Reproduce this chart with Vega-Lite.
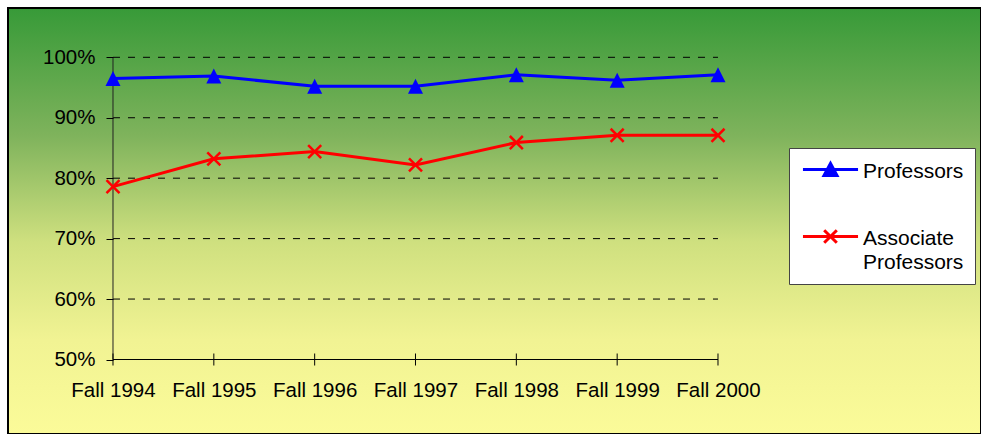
{
  "$schema": "https://vega.github.io/schema/vega-lite/v6.json",
  "width": 973,
  "height": 426,
  "autosize": {"type": "none"},
  "padding": {"left": 8, "top": 8, "right": 0, "bottom": 0},
  "background": "white",
  "view": {
    "stroke": "black",
    "strokeWidth": 2,
    "fill": {
      "gradient": "linear",
      "x1": 0, "y1": 0, "x2": 0, "y2": 1,
      "stops": [
        {"offset": 0, "color": "#379a38"},
        {"offset": 0.3, "color": "#7fb35c"},
        {"offset": 0.55, "color": "#cfe07f"},
        {"offset": 0.78, "color": "#f1f393"},
        {"offset": 1, "color": "#fbfb99"}
      ]
    }
  },
  "datasets": {
    "main": [
      {"year": 1994, "series": "Professors", "value": 0.965},
      {"year": 1995, "series": "Professors", "value": 0.969},
      {"year": 1996, "series": "Professors", "value": 0.952},
      {"year": 1997, "series": "Professors", "value": 0.952},
      {"year": 1998, "series": "Professors", "value": 0.971},
      {"year": 1999, "series": "Professors", "value": 0.962},
      {"year": 2000, "series": "Professors", "value": 0.971},
      {"year": 1994, "series": "Associate Professors", "value": 0.786},
      {"year": 1995, "series": "Associate Professors", "value": 0.832},
      {"year": 1996, "series": "Associate Professors", "value": 0.844},
      {"year": 1997, "series": "Associate Professors", "value": 0.822},
      {"year": 1998, "series": "Associate Professors", "value": 0.859},
      {"year": 1999, "series": "Associate Professors", "value": 0.871},
      {"year": 2000, "series": "Associate Professors", "value": 0.871}
    ],
    "grid": [{"g": 0.6}, {"g": 0.7}, {"g": 0.8}, {"g": 0.9}, {"g": 1.0}]
  },
  "layer": [
    {
      "data": {"name": "grid"},
      "mark": {"type": "rule", "color": "black", "strokeWidth": 1, "strokeDash": [7, 8]},
      "encoding": {
        "y": {"field": "g", "type": "quantitative", "scale": {"domain": [0.37674, 1.08157], "nice": false, "zero": false},
          "axis": {"orient": "left", "values": [0.5, 0.6, 0.7, 0.8, 0.9, 1.0], "format": ".0%", "domain": false, "ticks": true, "tickSize": 7, "tickColor": "black", "tickWidth": 1, "grid": false, "offset": -105, "labelPadding": 11, "labelFont": "Liberation Sans", "labelFontSize": 20.5, "labelColor": "black", "labelFlush": false, "labelOverlap": false, "title": null, "zindex": 1}},
        "x": {"datum": 1994, "type": "quantitative", "scale": {"domain": [1992.9587, 2002.6083], "nice": false, "zero": false},
          "axis": {"orient": "bottom", "values": [1994, 1995, 1996, 1997, 1998, 1999, 2000], "labelExpr": "'Fall ' + datum.value", "domain": false, "ticks": false, "tickSize": 0, "grid": false, "offset": -74.5, "labelPadding": 21, "labelBaseline": "top", "labelFont": "Liberation Sans", "labelFontSize": 20.5, "labelColor": "black", "labelFlush": false, "labelOverlap": false, "title": null, "zindex": 1}},
        "x2": {"datum": 2000}
      }
    },
    {
      "data": {"values": [{}]},
      "mark": {"type": "rule", "color": "#222222", "strokeWidth": 1},
      "encoding": {
        "x": {"datum": 1994, "type": "quantitative", "scale": {"domain": [1992.9587, 2002.6083], "nice": false, "zero": false},
          "axis": {"orient": "bottom", "values": [1994, 1995, 1996, 1997, 1998, 1999, 2000], "labelExpr": "'Fall ' + datum.value", "domain": false, "ticks": false, "tickSize": 0, "grid": false, "offset": -74.5, "labelPadding": 21, "labelBaseline": "top", "labelFont": "Liberation Sans", "labelFontSize": 20.5, "labelColor": "black", "labelFlush": false, "labelOverlap": false, "title": null, "zindex": 1}},
        "y": {"datum": 0.5, "type": "quantitative", "scale": {"domain": [0.37674, 1.08157], "nice": false, "zero": false},
          "axis": {"orient": "left", "values": [0.5, 0.6, 0.7, 0.8, 0.9, 1.0], "format": ".0%", "domain": false, "ticks": true, "tickSize": 7, "tickColor": "black", "tickWidth": 1, "grid": false, "offset": -105, "labelPadding": 11, "labelFont": "Liberation Sans", "labelFontSize": 20.5, "labelColor": "black", "labelFlush": false, "labelOverlap": false, "title": null, "zindex": 1}},
        "y2": {"datum": 1.0}
      }
    },
    {
      "data": {"values": [{}]},
      "mark": {"type": "rule", "color": "black", "strokeWidth": 1},
      "encoding": {
        "x": {"datum": 1994, "type": "quantitative", "scale": {"domain": [1992.9587, 2002.6083], "nice": false, "zero": false},
          "axis": {"orient": "bottom", "values": [1994, 1995, 1996, 1997, 1998, 1999, 2000], "labelExpr": "'Fall ' + datum.value", "domain": false, "ticks": false, "tickSize": 0, "grid": false, "offset": -74.5, "labelPadding": 21, "labelBaseline": "top", "labelFont": "Liberation Sans", "labelFontSize": 20.5, "labelColor": "black", "labelFlush": false, "labelOverlap": false, "title": null, "zindex": 1}},
        "x2": {"datum": 2000},
        "y": {"datum": 0.5, "type": "quantitative", "scale": {"domain": [0.37674, 1.08157], "nice": false, "zero": false},
          "axis": {"orient": "left", "values": [0.5, 0.6, 0.7, 0.8, 0.9, 1.0], "format": ".0%", "domain": false, "ticks": true, "tickSize": 7, "tickColor": "black", "tickWidth": 1, "grid": false, "offset": -105, "labelPadding": 11, "labelFont": "Liberation Sans", "labelFontSize": 20.5, "labelColor": "black", "labelFlush": false, "labelOverlap": false, "title": null, "zindex": 1}}
      }
    },
    {
      "data": {"name": "main"},
      "transform": [{"filter": "datum.series == 'Professors'"}],
      "mark": {"type": "rule", "color": "black", "strokeWidth": 1, "yOffset": -6, "y2Offset": 6},
      "encoding": {
        "x": {"field": "year", "type": "quantitative", "scale": {"domain": [1992.9587, 2002.6083], "nice": false, "zero": false},
          "axis": {"orient": "bottom", "values": [1994, 1995, 1996, 1997, 1998, 1999, 2000], "labelExpr": "'Fall ' + datum.value", "domain": false, "ticks": false, "tickSize": 0, "grid": false, "offset": -74.5, "labelPadding": 21, "labelBaseline": "top", "labelFont": "Liberation Sans", "labelFontSize": 20.5, "labelColor": "black", "labelFlush": false, "labelOverlap": false, "title": null, "zindex": 1}},
        "y": {"datum": 0.5, "type": "quantitative", "scale": {"domain": [0.37674, 1.08157], "nice": false, "zero": false},
          "axis": {"orient": "left", "values": [0.5, 0.6, 0.7, 0.8, 0.9, 1.0], "format": ".0%", "domain": false, "ticks": true, "tickSize": 7, "tickColor": "black", "tickWidth": 1, "grid": false, "offset": -105, "labelPadding": 11, "labelFont": "Liberation Sans", "labelFontSize": 20.5, "labelColor": "black", "labelFlush": false, "labelOverlap": false, "title": null, "zindex": 1}},
        "y2": {"datum": 0.5}
      }
    },
    {
      "data": {"name": "main"},
      "mark": {"type": "line", "strokeWidth": 3},
      "encoding": {
        "x": {"field": "year", "type": "quantitative", "scale": {"domain": [1992.9587, 2002.6083], "nice": false, "zero": false},
          "axis": {"orient": "bottom", "values": [1994, 1995, 1996, 1997, 1998, 1999, 2000], "labelExpr": "'Fall ' + datum.value", "domain": false, "ticks": false, "tickSize": 0, "grid": false, "offset": -74.5, "labelPadding": 21, "labelBaseline": "top", "labelFont": "Liberation Sans", "labelFontSize": 20.5, "labelColor": "black", "labelFlush": false, "labelOverlap": false, "title": null, "zindex": 1}},
        "y": {"field": "value", "type": "quantitative", "scale": {"domain": [0.37674, 1.08157], "nice": false, "zero": false},
          "axis": {"orient": "left", "values": [0.5, 0.6, 0.7, 0.8, 0.9, 1.0], "format": ".0%", "domain": false, "ticks": true, "tickSize": 7, "tickColor": "black", "tickWidth": 1, "grid": false, "offset": -105, "labelPadding": 11, "labelFont": "Liberation Sans", "labelFontSize": 20.5, "labelColor": "black", "labelFlush": false, "labelOverlap": false, "title": null, "zindex": 1}},
        "color": {
          "field": "series", "type": "nominal",
          "scale": {"domain": ["Professors", "Associate Professors"], "range": ["#0000ff", "#ff0000"]},
          "legend": {
            "title": null, "orient": "none", "legendX": 781, "legendY": 140, "padding": 11, "zindex": 1,
            "fillColor": "white", "strokeColor": "#444444",
            "symbolSize": 324, "symbolStrokeWidth": 3, "symbolOffset": 20,
            "labelFont": "Liberation Sans", "labelFontSize": 21, "labelColor": "black",
            "labelOffset": 22, "rowPadding": 42, "labelBaseline": "top", "labelLimit": 300,
            "labelExpr": "datum.label == 'Associate Professors' ? ['Associate', 'Professors'] : datum.label",
            "encode": {
              "symbols": {"update": {
                "shape": {"signal": "datum.value == 'Professors' ? 'M-3.06,0L3.06,0M-0.72,0.67L0.72,0.67L0,-0.67Z' : 'M-3.06,0L3.06,0M-0.7,-0.7L0.7,0.7M-0.7,0.7L0.7,-0.7'"},
                "fill": {"signal": "datum.value == 'Professors' ? '#0000ff' : '#ff0000'"},
                "stroke": {"signal": "datum.value == 'Professors' ? '#0000ff' : '#ff0000'"},
                "strokeWidth": {"value": 3},
                "size": {"value": 324}
              }},
              "labels": {"update": {"dy": {"value": -9}, "lineHeight": {"value": 24}}}
            }
          }
        }
      }
    },
    {
      "data": {"name": "main"},
      "transform": [{"filter": "datum.series == 'Professors'"}],
      "mark": {"type": "point", "filled": true, "opacity": 1, "fill": "#0000ff", "strokeWidth": 0, "size": 225, "shape": "M0,-1L1,1L-1,1Z"},
      "encoding": {
        "x": {"field": "year", "type": "quantitative", "scale": {"domain": [1992.9587, 2002.6083], "nice": false, "zero": false},
          "axis": {"orient": "bottom", "values": [1994, 1995, 1996, 1997, 1998, 1999, 2000], "labelExpr": "'Fall ' + datum.value", "domain": false, "ticks": false, "tickSize": 0, "grid": false, "offset": -74.5, "labelPadding": 21, "labelBaseline": "top", "labelFont": "Liberation Sans", "labelFontSize": 20.5, "labelColor": "black", "labelFlush": false, "labelOverlap": false, "title": null, "zindex": 1}},
        "y": {"field": "value", "type": "quantitative", "scale": {"domain": [0.37674, 1.08157], "nice": false, "zero": false},
          "axis": {"orient": "left", "values": [0.5, 0.6, 0.7, 0.8, 0.9, 1.0], "format": ".0%", "domain": false, "ticks": true, "tickSize": 7, "tickColor": "black", "tickWidth": 1, "grid": false, "offset": -105, "labelPadding": 11, "labelFont": "Liberation Sans", "labelFontSize": 20.5, "labelColor": "black", "labelFlush": false, "labelOverlap": false, "title": null, "zindex": 1}}
      }
    },
    {
      "data": {"name": "main"},
      "transform": [{"filter": "datum.series == 'Associate Professors'"}],
      "mark": {"type": "point", "filled": false, "opacity": 1, "stroke": "#ff0000", "strokeWidth": 2.5, "size": 170, "shape": "M-1,-1L1,1M-1,1L1,-1"},
      "encoding": {
        "x": {"field": "year", "type": "quantitative", "scale": {"domain": [1992.9587, 2002.6083], "nice": false, "zero": false},
          "axis": {"orient": "bottom", "values": [1994, 1995, 1996, 1997, 1998, 1999, 2000], "labelExpr": "'Fall ' + datum.value", "domain": false, "ticks": false, "tickSize": 0, "grid": false, "offset": -74.5, "labelPadding": 21, "labelBaseline": "top", "labelFont": "Liberation Sans", "labelFontSize": 20.5, "labelColor": "black", "labelFlush": false, "labelOverlap": false, "title": null, "zindex": 1}},
        "y": {"field": "value", "type": "quantitative", "scale": {"domain": [0.37674, 1.08157], "nice": false, "zero": false},
          "axis": {"orient": "left", "values": [0.5, 0.6, 0.7, 0.8, 0.9, 1.0], "format": ".0%", "domain": false, "ticks": true, "tickSize": 7, "tickColor": "black", "tickWidth": 1, "grid": false, "offset": -105, "labelPadding": 11, "labelFont": "Liberation Sans", "labelFontSize": 20.5, "labelColor": "black", "labelFlush": false, "labelOverlap": false, "title": null, "zindex": 1}}
      }
    }
  ]
}
